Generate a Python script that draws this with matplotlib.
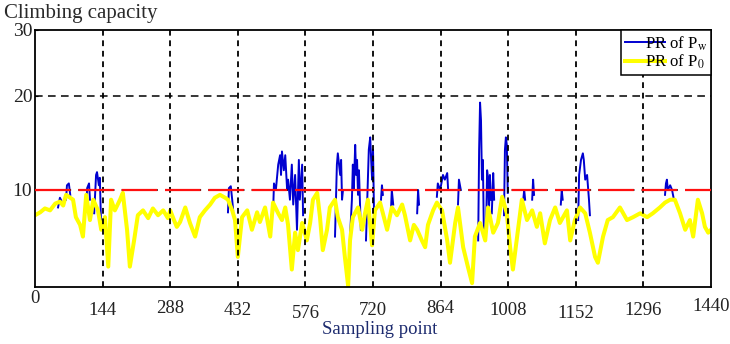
import numpy as np
import matplotlib
matplotlib.use("Agg")
import matplotlib.pyplot as plt

plt.rcParams["font.family"] = ["Liberation Serif", "DejaVu Serif"]
plt.rcParams["mathtext.fontset"] = "stix"

# ---------------------------------------------------------------------------
# Data
# ---------------------------------------------------------------------------
X_TICKS = [0, 144, 288, 432, 576, 720, 864, 1008, 1152, 1296, 1440]
Y_TICKS = [10, 20, 30]
LIMIT = 10

# PR of P0 (yellow)
p0_x = [0, 11, 21, 32, 43, 53, 60, 66, 75, 81, 87, 96, 102, 109, 117, 124, 134, 141,
        149, 156, 162, 170, 181, 187, 196, 202, 211, 219, 230, 241, 251, 262, 273, 283,
        288, 296, 302, 309, 320, 330, 341, 351, 362, 373, 383, 394, 405, 411, 420, 426,
        432, 441, 452, 462, 473, 479, 490, 501, 507, 518, 526, 533, 539, 547, 554, 560,
        569, 579, 586, 592, 601, 607, 613, 622, 628, 639, 645, 654, 660, 667, 671, 677,
        688, 697, 703, 709, 718, 724, 735, 741, 750, 760, 771, 782, 788, 799, 807, 814,
        824, 831, 837, 848, 856, 867, 878, 884, 895, 901, 912, 922, 931, 937, 948, 959,
        965, 976, 986, 995, 1005, 1012, 1018, 1027, 1037, 1048, 1059, 1069, 1076, 1086,
        1097, 1108, 1118, 1133, 1140, 1150, 1161, 1172, 1182, 1193, 1199, 1210, 1220,
        1231, 1246, 1261, 1274, 1289, 1304, 1316, 1331, 1342, 1353, 1363, 1374, 1385,
        1395, 1402, 1412, 1421, 1427, 1434, 1440]
p0_y = [7.4, 7.7, 8.1, 7.9, 8.6, 8.8, 8.4, 9.5, 9.2, 9.0, 7.2, 6.4, 5.2, 9.5, 6.9, 9.0, 7.9, 5.9,
        7.2, 2.1, 9.0, 7.9, 9.0, 9.7, 5.9, 2.1, 4.8, 7.4, 7.9, 7.1, 8.1, 7.4, 7.9, 7.1,
        7.9, 6.9, 6.2, 6.7, 8.2, 6.6, 5.2, 7.2, 7.9, 8.5, 9.2, 9.5, 9.2, 9.0, 7.9, 6.9,
        3.1, 7.2, 7.9, 5.9, 7.7, 6.7, 8.2, 5.2, 8.7, 7.6, 6.9, 8.2, 6.4, 1.8, 5.6, 3.8,
        6.6, 4.8, 6.6, 9.0, 9.7, 7.2, 3.8, 5.9, 8.2, 9.0, 7.2, 5.9, 3.1, 0.1, 4.8, 7.2,
        8.2, 5.9, 7.6, 9.0, 4.3, 7.9, 8.7, 7.6, 5.9, 8.2, 7.4, 8.5, 7.4, 4.8, 6.4, 5.9,
        4.8, 4.1, 6.4, 7.9, 8.7, 7.9, 4.8, 2.5, 6.6, 8.2, 4.1, 2.1, 0.4, 5.2, 6.6, 4.8,
        8.2, 5.6, 6.6, 9.3, 7.6, 4.1, 1.8, 5.2, 9.0, 6.9, 7.9, 6.2, 7.6, 4.5,
        6.9, 8.2, 6.6, 7.9, 4.8, 6.9, 8.2, 7.6, 5.6, 3.1, 2.5, 5.2, 6.9,
        7.2, 8.2, 6.9, 7.2, 7.6, 7.2, 7.6, 8.2, 8.7, 9.0, 9.0, 7.6, 5.9,
        6.9, 5.2, 9.0, 7.6, 6.2, 5.6, 5.9]

# PR of Pw (blue) - only the parts that stick out of the yellow trace
nan = np.nan
pw_x = [49, 53, 58, nan,
        66, 68, 72, 75, nan,
        109, 111, 115, 117, nan,
        126, 130, 132, 136, 138, 141, nan,
        411, 413, 417, 420, 422, nan,
        507, 509, 513, 518, 522, 524, 526, 530, 533, 537, 539, 543, 547, 550, 554, 558,
        562, 564, 569, 571, nan,
        639, 641, 643, 645, 650, 652, 654, 656, nan,
        671, 675, 677, 679, 682, 684, 686, 688, 690, 692, 694, nan,
        705, 709, 711, 714, 716, 718, 720, 722, nan,
        737, 739, 741, nan,
        758, 760, 763, nan,
        814, 816, 818, nan,
        856, 858, 863, 869, 873, 878, 880, nan,
        901, 903, 907, nan,
        944, 946, 948, 950, 952, 954, 956, nan,
        961, 963, 965, 967, 969, 971, nan,
        973, 976, 978, nan,
        999, 1001, 1003, 1005, 1007, nan,
        1039, 1042, 1044, nan,
        1059, 1061, 1063, nan,
        1120, 1122, 1124, nan,
        1157, 1159, 1163, 1167, 1169, 1172, 1176, 1180, 1182, nan,
        1342, 1344, 1346, 1348, 1353, 1357, 1361]
pw_y = [8.2, 9.2, 8.7, nan,
        9.0, 10.5, 10.7, 9.5, nan,
        8.1, 10.2, 10.7, 9.0, nan,
        7.6, 11.6, 11.9, 10.5, 11.3, 5.9, nan,
        7.7, 10.2, 10.4, 9.0, 7.9, nan,
        7.6, 10.7, 10.0, 12.7, 13.7, 11.6, 14.1, 12.1, 13.7, 10.0, 11.1, 9.0, 12.7, 8.5,
        11.6, 5.9, 13.2, 9.0, 12.7, 7.4, nan,
        5.2, 9.0, 12.7, 13.9, 11.6, 13.2, 9.0, 10.0, nan,
        5.2, 9.0, 12.7, 10.0, 14.8, 11.6, 13.2, 9.5, 12.1, 9.0, 5.9, nan,
        4.8, 11.1, 14.3, 15.6, 13.2, 11.1, 14.3, 7.9, nan,
        9.0, 10.5, 9.5, nan,
        7.6, 10.0, 8.5, nan,
        7.6, 10.0, 8.5, nan,
        9.3, 10.7, 10.0, 11.6, 11.1, 11.8, 10.0, nan,
        8.5, 11.1, 10.0, nan,
        4.8, 14.3, 19.3, 17.4, 11.1, 13.2, 5.9, nan,
        6.4, 12.1, 11.3, 7.9, 11.6, 9.0, nan,
        7.6, 11.8, 9.0, nan,
        7.4, 14.3, 15.6, 14.8, 9.7, nan,
        8.5, 10.0, 9.0, nan,
        9.0, 11.1, 9.5, nan,
        8.5, 10.0, 9.0, nan,
        6.9, 11.6, 13.2, 13.9, 13.2, 11.1, 11.6, 9.0, 7.4, nan,
        9.5, 10.7, 11.1, 10.0, 10.5, 10.0, 9.0]

# ---------------------------------------------------------------------------
# Plot
# ---------------------------------------------------------------------------
# the original y axis is not linear: the 20..30 band is squeezed
_Y_DATA = [0, 10, 20, 30]
_Y_DRAW = [0, 97, 191, 257]


def _fwd(y):
    return np.interp(y, _Y_DATA, _Y_DRAW)


def _inv(p):
    return np.interp(p, _Y_DRAW, _Y_DATA)


def main():
    fig = plt.figure(figsize=(7.3, 3.44), dpi=100)
    ax = fig.add_axes([0.048, 0.1657, 0.926, 0.7471])

    ax.plot(pw_x, pw_y, color="#0000d0", lw=1.4, zorder=2, label=r"PR of P$_{\rm w}$")
    ax.plot(p0_x, p0_y, color="#ffff00", lw=2.9, zorder=2.2, label=r"PR of P$_0$")

    ax.set_yscale("function", functions=(_fwd, _inv))
    ax.set_xlim(X_TICKS[0], X_TICKS[-1])
    ax.set_ylim(0, 30)

    # grid (drawn above the traces, as in the original)
    for xv in X_TICKS[1:-1]:
        ax.axvline(xv, color="black", lw=1.3, ls=(0, (3.2, 2.6)), zorder=2.5)
    ax.axhline(20, color="black", lw=1.1, ls=(0, (5, 3.5)), zorder=2.5)
    ax.axhline(LIMIT, color="black", lw=1.3, ls=(0, (4, 4)), zorder=2.4)
    ax.axhline(LIMIT, color="#ff1010", lw=1.6, ls=(0, (16, 3.5)), zorder=3)

    ax.set_yticks(Y_TICKS)
    ax.set_yticklabels([str(v) for v in Y_TICKS], fontsize=14, color="#222222")
    ax.tick_params(axis="y", direction="in", length=2, pad=2)
    ax.set_xticks(X_TICKS)
    ax.set_xticklabels([])
    ax.tick_params(axis="x", length=0)

    # staggered x tick labels like in the source image
    label_y = [-0.043, -0.093, -0.082, -0.093, -0.103, -0.090, -0.082, -0.093, -0.102, -0.093, -0.074]
    for xv, yy in zip(X_TICKS, label_y):
        ax.text(xv, yy, str(xv), transform=ax.get_xaxis_transform(), ha="center", va="center",
                fontsize=13.5, color="#222222", clip_on=False)

    for s in ax.spines.values():
        s.set_linewidth(1.3)
        s.set_color("black")

    fig.text(0.52, 0.043, "Sampling point", ha="center", va="center", fontsize=13.5,
             color="#1c2a6e")
    fig.text(0.006, 0.962, "Climbing capacity", ha="left", va="center", fontsize=15,
             color="#2a2a2a")

    leg = ax.legend(loc="upper right", borderaxespad=0, fancybox=False, fontsize=12,
                    handlelength=2.4, handletextpad=-1.2, labelspacing=0.0,
                    borderpad=0.25, framealpha=1)
    leg.get_frame().set_edgecolor("black")
    leg.get_frame().set_linewidth(1.1)

    fig.savefig("out.png", dpi=100, facecolor="white")
    plt.close(fig)


if __name__ == "__main__":
    main()
